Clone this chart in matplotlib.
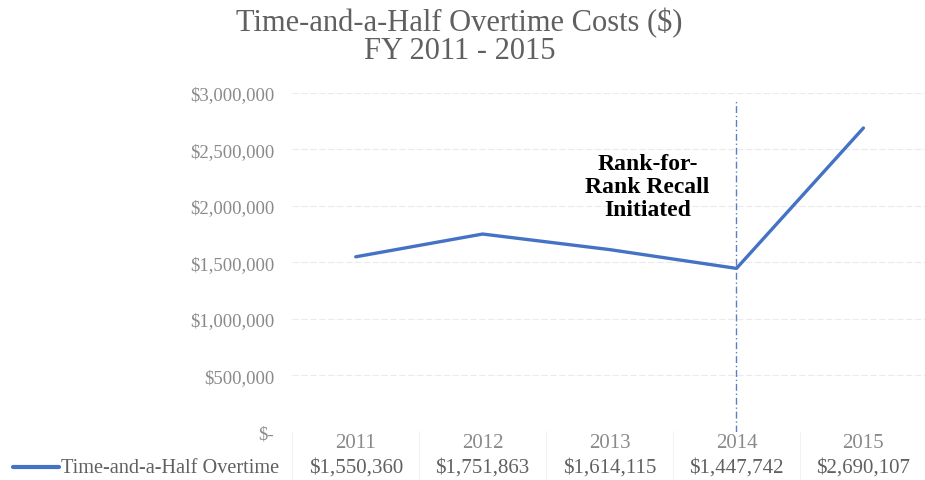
import matplotlib
matplotlib.use("Agg")
import matplotlib.pyplot as plt
import matplotlib.transforms as mtransforms
from matplotlib.lines import Line2D

# データ
years = ["2011", "2012", "2013", "2014", "2015"]
costs = [1550360, 1751863, 1614115, 1447742, 2690107]
cost_labels = ["$1,550,360", "$1,751,863", "$1,614,115", "$1,447,742", "$2,690,107"]
series_name = "Time-and-a-Half Overtime"
y_ticks = [0, 500000, 1000000, 1500000, 2000000, 2500000, 3000000]
y_tick_labels = ["$-", "$500,000", "$1,000,000", "$1,500,000", "$2,000,000", "$2,500,000", "$3,000,000"]

plt.rcParams['font.family'] = ['Liberation Serif', 'DejaVu Serif']

line_color = "#4472C4"
fig = plt.figure(figsize=(9.25, 4.81), dpi=100)
ax = fig.add_axes([0.316, 0.0998, 0.686, 0.7048])

x = list(range(len(years)))
ax.plot(x, costs, color=line_color, lw=2.4, solid_capstyle='round')

ax.set_xlim(-0.5, len(years) - 0.5)
ax.set_ylim(0, 3000000)
ax.set_yticks(y_ticks)
ax.set_yticklabels(y_tick_labels, color="#8a8a8a", fontsize=13.5)
ax.set_xticks([])
ax.tick_params(axis='y', length=0, pad=13)
for s in ax.spines.values():
    s.set_visible(False)
ax.grid(axis='y', color="#ebebeb", lw=0.8, ls=(0, (6, 2)))
ax.set_axisbelow(True)

# 2014年の縦線
ax.axvline(3, ymin=0, ymax=0.975, color="#5b7fc4", lw=1.0, ls=(0, (5, 2, 1, 2)))
ax.text(2.3, 2170000, "Rank-for-\nRank Recall\nInitiated", ha='center', va='center',
        fontsize=17, fontweight='bold', color="black", linespacing=1.12)

# タイトル
fig.text(0.497, 0.952, "Time-and-a-Half Overtime Costs ($)", ha='center', va='center',
         fontsize=22, color="#606060")
fig.text(0.497, 0.893, "FY 2011 - 2015", ha='center', va='center',
         fontsize=22, color="#606060")

# データテーブル
trans = mtransforms.blended_transform_factory(ax.transData, fig.transFigure)
for i in range(len(years)):
    ax.text(i, 0.078, years[i], transform=trans, ha='center', va='center',
            fontsize=15, color="#8a8a8a", clip_on=False)
    ax.text(i, 0.027, cost_labels[i], transform=trans, ha='center', va='center',
            fontsize=15, color="#606060", clip_on=False)
for b in [-0.5, 0.5, 1.5, 2.5, 3.5]:
    ax.add_line(Line2D([b, b], [0.0, 0.10], transform=trans, color="#f2f2f2", lw=0.8, clip_on=False))

fig.add_artist(Line2D([0.014, 0.064], [0.027, 0.027], color=line_color, lw=3, solid_capstyle='round'))
fig.text(0.066, 0.027, series_name, ha='left', va='center', fontsize=14.6, color="#606060")

fig.savefig("out.png", dpi=100)
